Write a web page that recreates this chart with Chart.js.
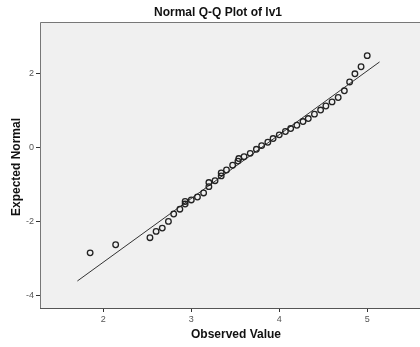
<!DOCTYPE html>
<html>
<head>
<meta charset="utf-8">
<script src="https://cdn.jsdelivr.net/npm/chart.js@4"></script>
<style>
  body { margin: 0; background: #fff; }
  canvas { display: block; }
</style>
</head>
<body>
<canvas id="qqChart" width="420" height="347"></canvas>
<script>
document.addEventListener('DOMContentLoaded', (event) => {
    var observed = [1.85, 2.14, 2.53, 2.60, 2.67, 2.74, 2.80, 2.87, 2.93, 2.93, 3.00, 3.07, 3.14, 3.20, 3.20,
        3.27, 3.34, 3.34, 3.40, 3.47, 3.53, 3.54, 3.60, 3.67, 3.74, 3.80, 3.87, 3.93, 4.00, 4.07, 4.13,
        4.20, 4.27, 4.33, 4.40, 4.47, 4.53, 4.60, 4.67, 4.74, 4.80, 4.86, 4.93, 5.00];
    var expected = [-2.86, -2.64, -2.45, -2.28, -2.19, -2.01, -1.81, -1.68, -1.54, -1.47, -1.43, -1.35, -1.24, -1.07, -0.96,
        -0.91, -0.78, -0.70, -0.62, -0.49, -0.38, -0.31, -0.26, -0.17, -0.06, 0.04, 0.13, 0.23, 0.33, 0.42, 0.50,
        0.59, 0.69, 0.77, 0.89, 1.00, 1.11, 1.22, 1.34, 1.52, 1.76, 1.98, 2.17, 2.47];

    // reference line end points
    var lineX = [1.705, 5.14];
    var lineY = [-3.62, 2.30];

    var xTicks = [2, 3, 4, 5];
    var yTicks = [-4, -2, 0, 2];

    var points = observed.map((v, i) => ({ x: v, y: expected[i] }));
    var refLine = lineX.map((v, i) => ({ x: v, y: lineY[i] }));

    var textFont = 'Arial, "Liberation Sans", sans-serif';

    // plot background, frame and all the titles
    var frame = {
        id: 'frame',
        beforeDatasetsDraw(chart) {
            var a = chart.chartArea;
            var ctx = chart.ctx;
            ctx.save();
            ctx.fillStyle = '#f0f0f0';
            ctx.fillRect(a.left, a.top, a.right - a.left, a.bottom - a.top);
            ctx.restore();
        },
        afterDraw(chart) {
            var a = chart.chartArea;
            var ctx = chart.ctx;
            ctx.save();
            ctx.strokeStyle = '#777';
            ctx.lineWidth = 1;
            ctx.beginPath();
            ctx.moveTo(a.left + 0.5, a.bottom + 0.5);
            ctx.lineTo(a.left + 0.5, a.top + 0.5);
            ctx.lineTo(a.right, a.top + 0.5);
            ctx.stroke();
            ctx.strokeStyle = '#555';
            ctx.beginPath();
            ctx.moveTo(a.left, a.bottom + 0.5);
            ctx.lineTo(a.right, a.bottom + 0.5);
            ctx.stroke();

            ctx.fillStyle = '#111';
            ctx.font = 'bold 12px ' + textFont;
            ctx.textAlign = 'center';
            ctx.textBaseline = 'middle';
            ctx.fillText('Normal Q-Q Plot of lv1', 218, 13);
            ctx.fillText('Observed Value', 236, 335);
            ctx.translate(17, 167);
            ctx.rotate(-Math.PI / 2);
            ctx.fillText('Expected Normal', 0, 0);
            ctx.restore();
        }
    };

    new Chart(document.getElementById('qqChart').getContext('2d'), {
        type: 'scatter',
        data: {
            datasets: [{
                label: 'Observed',
                data: points,
                pointStyle: 'circle',
                pointRadius: 2.8,
                pointBorderWidth: 1.3,
                pointBorderColor: '#222',
                pointBackgroundColor: 'rgba(0,0,0,0)',
                showLine: false
            }, {
                type: 'line',
                label: 'Reference',
                data: refLine,
                borderColor: '#333',
                borderWidth: 1,
                pointRadius: 0,
                fill: false
            }]
        },
        options: {
            responsive: false,
            animation: false,
            layout: { autoPadding: false, padding: { top: 22, right: 0, left: 0, bottom: 0 } },
            plugins: {
                legend: { display: false },
                title: { display: false },
                tooltip: { enabled: false }
            },
            scales: {
                x: {
                    type: 'linear',
                    min: 1.28,
                    max: 5.6,
                    afterFit(scale) { scale.height = 39; },
                    afterBuildTicks(scale) { scale.ticks = xTicks.map(v => ({ value: v })); },
                    border: { display: false },
                    grid: { drawOnChartArea: false, drawTicks: true, tickLength: 4, color: '#333' },
                    ticks: { color: '#555', font: { family: textFont, size: 9 }, padding: 2, maxRotation: 0 }
                },
                y: {
                    type: 'linear',
                    min: -4.35,
                    max: 3.38,
                    afterFit(scale) { scale.width = 40; },
                    afterBuildTicks(scale) { scale.ticks = yTicks.map(v => ({ value: v })); },
                    border: { display: false },
                    grid: { drawOnChartArea: false, drawTicks: true, tickLength: 4, color: '#333' },
                    ticks: { color: '#555', font: { family: textFont, size: 9 }, padding: 2 }
                }
            }
        },
        plugins: [frame]
    });
});
</script>
</body>
</html>
